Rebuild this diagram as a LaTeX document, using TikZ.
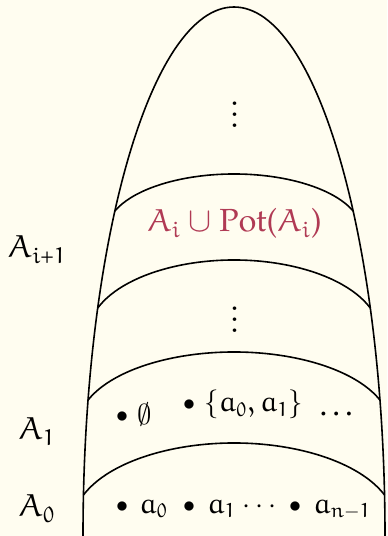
\documentclass[tikz,border=0pt]{standalone}
\usepackage{amsmath}
\usepackage{xcolor}
\usepackage{tikz}
\usetikzlibrary{positioning}
% Euler letters and digits, Palatino for operators
\DeclareFontFamily{U}{eulx}{\skewchar\font'177}
\DeclareFontShape{U}{eulx}{m}{n}{<-6>eurm5<6-7>eurm6<7-8>eurm7<8-9>eurm8<9-10>eurm9<10->eurm10}{}
\DeclareSymbolFont{letters}{U}{eulx}{m}{n}
\DeclareSymbolFont{operators}{OT1}{ppl}{m}{n}
\def\eulerdigit#1{\DeclareMathSymbol{#1}{\mathalpha}{letters}{`#1}}
\eulerdigit0\eulerdigit1\eulerdigit2\eulerdigit3\eulerdigit4
\eulerdigit5\eulerdigit6\eulerdigit7\eulerdigit8\eulerdigit9
\newcommand{\bigvdots}{\vbox{\baselineskip5.5pt\lineskiplimit0pt\hbox{.}\hbox{.}\hbox{.}}}
\definecolor{bgcream}{RGB}{255,253,240}
\definecolor{potred}{RGB}{176,58,84}

\begin{document}
\begin{tikzpicture}[x=0.5pt, y=0.5pt,
    layer/.style={line width=0.8pt},
    lvl/.style={font=\fontsize{16}{19}\selectfont, anchor=base, inner sep=0pt},
    dotmark/.style={font=\large, anchor=base, inner sep=0pt},
    ellip/.style={font=\Large, anchor=base, inner sep=0pt},
    elem/.style={font=\Large, anchor=base west, inner sep=0pt},
    powset/.style={font=\fontsize{16}{19}\selectfont, text=potred, anchor=base, inner sep=0pt},
    vdotsnode/.style={font=\fontsize{22}{22}\selectfont, inner sep=0pt},
  ]
  \fill[bgcream] (0,0) rectangle (387,536);
  \useasboundingbox (0,0) rectangle (387,536);
  % outline and the layers
  \begin{scope}
    \clip (0,0) rectangle (387,536);
    \draw[layer] (83,0) arc[start angle=180, end angle=0, x radius=151, y radius=529];
    \foreach \yc/\rx/\ry in {304.5/127.5/57.5, 201.5/145.8/74.5, 109.5/156.1/74.5, 12.3/161.1/80.7}
      \draw[layer] (234,\yc) ++({-\rx*cos(20.8)},{\ry*sin(20.8)})
        arc[start angle=159.2, end angle=20.8, x radius=\rx, y radius=\ry];
  \end{scope}
  % level names
  \node[lvl] (a-next) at (37,278) {$A_{i+1}$};
  \node[lvl] (a-one) at (37,96) {$A_1$};
  \node[lvl] (a-zero) at (37,19) {$A_0$};
  % upper layers
  \node[vdotsnode] (dots-top) at (235,421) {\bigvdots};
  \node[powset] (pot) at (234.5,304) {$A_i \cup \operatorname{Pot}(A_i)$};
  \node[vdotsnode] (dots-mid) at (235,216) {\bigvdots};
  % A_1
  \foreach \x/\y in {122/113, 189/125}
    \node[dotmark] (b-\x-\y) at (\x,\y) {$\bullet$};
  \node[elem] (empty) at (137,112) {$\emptyset$};
  \node[elem] (pair) at (204,124) {$\{a_0,a_1\}$};
  \node[ellip] (more) at (338.5,120) {$\dots$};
  % A_0
  \foreach \x in {122, 189, 295}
    \node[dotmark] (b-\x-0) at (\x,24) {$\bullet$};
  \node[elem] (el-0) at (139,23) {$a_0$};
  \node[elem] (el-1) at (207,23) {$a_1$};
  \node[ellip] (el-dots) at (262,23) {$\cdots$};
  \node[elem] (el-n) at (313,23) {$a_{n-1}$};
\end{tikzpicture}
\end{document}
